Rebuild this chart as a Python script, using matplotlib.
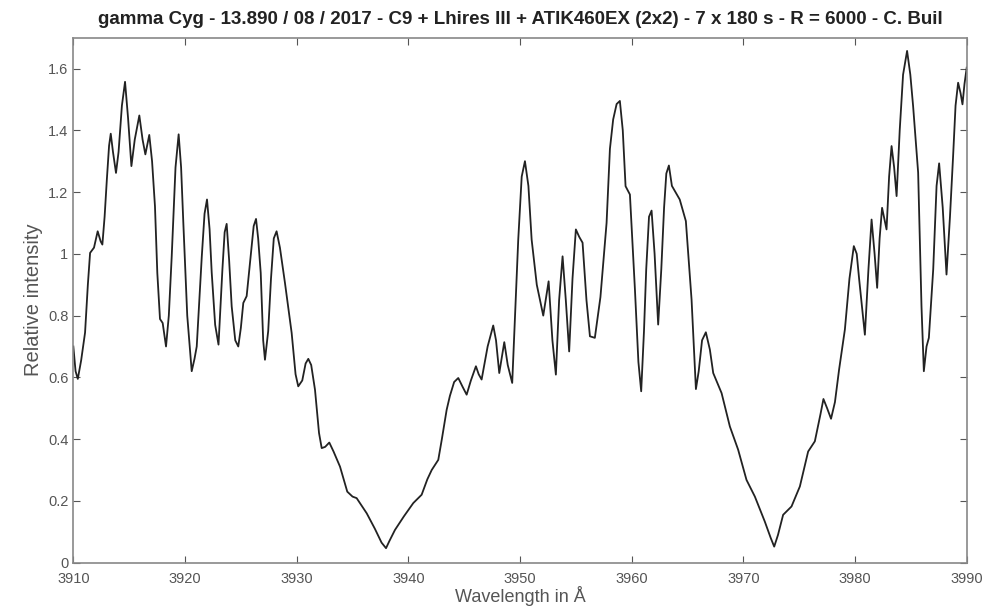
import matplotlib.pyplot as plt
from matplotlib.ticker import FuncFormatter, MultipleLocator

# spectrum (wavelength in A, relative intensity)
wavelength = [3910.0, 3910.2, 3910.4, 3910.7, 3911.05, 3911.3, 3911.5, 3911.85, 3912.18, 3912.45,
              3912.6, 3912.8, 3913.0, 3913.2, 3913.35, 3913.55, 3913.82, 3914.05, 3914.35, 3914.63,
              3914.9, 3915.2, 3915.5, 3915.91, 3916.2, 3916.45, 3916.8, 3917.05, 3917.31, 3917.52,
              3917.76, 3918.0, 3918.3, 3918.55, 3918.81, 3919.15, 3919.43, 3919.65, 3919.85, 3920.2,
              3920.6, 3920.85, 3921.05, 3921.5, 3921.75, 3921.97, 3922.2, 3922.39, 3922.7, 3923.0,
              3923.35, 3923.55, 3923.73, 3923.95, 3924.18, 3924.5, 3924.77, 3925.0, 3925.22, 3925.52,
              3925.9, 3926.15, 3926.36, 3926.55, 3926.78, 3927.0, 3927.16, 3927.45, 3927.7, 3927.95,
              3928.2, 3928.5, 3928.95, 3929.55, 3929.9, 3930.14, 3930.5, 3930.8, 3931.04, 3931.3,
              3931.64, 3932.0, 3932.24, 3932.55, 3932.92, 3933.3, 3933.88, 3934.53, 3935.0, 3935.37,
              3936.27, 3937.0, 3937.6, 3938.0, 3938.3, 3938.8, 3939.6, 3940.44, 3941.19, 3941.7,
              3942.09, 3942.68, 3943.0, 3943.43, 3943.72, 3944.1, 3944.47, 3944.85, 3945.22, 3945.6,
              3946.05, 3946.3, 3946.56, 3947.1, 3947.6, 3947.85, 3948.14, 3948.59, 3948.9, 3949.3,
              3949.55, 3949.84, 3950.15, 3950.44, 3950.75, 3951.04, 3951.5, 3952.08, 3952.56, 3952.9,
              3953.21, 3953.5, 3953.81, 3954.1, 3954.4, 3954.7, 3955.0, 3955.3, 3955.6, 3955.95,
              3956.26, 3956.7, 3957.2, 3957.75, 3958.05, 3958.34, 3958.65, 3958.94, 3959.2, 3959.45,
              3959.84, 3960.29, 3960.6, 3960.85, 3961.1, 3961.3, 3961.55, 3961.78, 3962.05, 3962.37,
              3962.65, 3962.9, 3963.1, 3963.33, 3963.6, 3963.87, 3964.3, 3964.85, 3965.1, 3965.36,
              3965.75, 3966.0, 3966.3, 3966.64, 3967.0, 3967.3, 3968.05, 3968.79, 3969.53, 3970.28,
              3971.03, 3971.92, 3972.45, 3972.76, 3973.1, 3973.56, 3974.31, 3975.06, 3975.8, 3976.4,
              3976.9, 3977.17, 3977.5, 3977.85, 3978.2, 3978.57, 3979.09, 3979.5, 3979.89, 3980.15,
              3980.37, 3980.88, 3981.2, 3981.48, 3981.75, 3981.98, 3982.2, 3982.42, 3982.82, 3983.05,
              3983.27, 3983.5, 3983.72, 3984.0, 3984.3, 3984.66, 3984.95, 3985.2, 3985.65, 3985.95,
              3986.16, 3986.4, 3986.61, 3987.0, 3987.3, 3987.53, 3987.85, 3988.19, 3988.5, 3988.78,
              3989.0, 3989.23, 3989.45, 3989.62, 3989.8, 3990.0]
intensity = [0.70, 0.62, 0.595, 0.655, 0.745, 0.90, 1.003, 1.02, 1.073, 1.04,
             1.03, 1.12, 1.24, 1.35, 1.389, 1.33, 1.262, 1.33, 1.48, 1.557,
             1.44, 1.284, 1.37, 1.448, 1.37, 1.322, 1.385, 1.30, 1.154, 0.938,
             0.789, 0.776, 0.70, 0.80, 0.992, 1.28, 1.387, 1.28, 1.10, 0.80,
             0.62, 0.66, 0.70, 0.99, 1.13, 1.176, 1.08, 0.94, 0.77, 0.706,
             0.95, 1.07, 1.097, 0.98, 0.83, 0.72, 0.70, 0.76, 0.841, 0.863,
             1.00, 1.09, 1.113, 1.05, 0.938, 0.72, 0.657, 0.75, 0.92, 1.05,
             1.073, 1.02, 0.906, 0.744, 0.61, 0.571, 0.59, 0.645, 0.66, 0.64,
             0.56, 0.42, 0.371, 0.375, 0.389, 0.36, 0.311, 0.23, 0.214, 0.209,
             0.16, 0.11, 0.065, 0.047, 0.07, 0.106, 0.15, 0.193, 0.22, 0.27,
             0.30, 0.333, 0.40, 0.495, 0.54, 0.585, 0.598, 0.57, 0.544, 0.59,
             0.636, 0.61, 0.593, 0.70, 0.768, 0.72, 0.614, 0.714, 0.64, 0.582,
             0.80, 1.046, 1.25, 1.30, 1.22, 1.046, 0.90, 0.80, 0.911, 0.72,
             0.609, 0.85, 0.992, 0.85, 0.684, 0.92, 1.079, 1.055, 1.036, 0.85,
             0.733, 0.728, 0.86, 1.10, 1.34, 1.435, 1.485, 1.495, 1.40, 1.219,
             1.192, 0.884, 0.65, 0.555, 0.75, 0.95, 1.12, 1.14, 1.00, 0.771,
             0.95, 1.15, 1.26, 1.286, 1.22, 1.203, 1.176, 1.106, 0.98, 0.852,
             0.562, 0.62, 0.72, 0.746, 0.69, 0.614, 0.549, 0.441, 0.366, 0.268,
             0.214, 0.133, 0.08, 0.052, 0.09, 0.155, 0.182, 0.247, 0.36, 0.393,
             0.48, 0.53, 0.50, 0.466, 0.52, 0.625, 0.755, 0.92, 1.025, 1.00,
             0.917, 0.738, 0.95, 1.111, 1.00, 0.89, 1.05, 1.149, 1.079, 1.25,
             1.349, 1.28, 1.187, 1.40, 1.58, 1.657, 1.58, 1.478, 1.263, 0.83,
             0.62, 0.70, 0.728, 0.95, 1.22, 1.293, 1.15, 0.933, 1.12, 1.316,
             1.48, 1.554, 1.52, 1.484, 1.55, 1.603]

title = "gamma Cyg - 13.890 / 08 / 2017 - C9 + Lhires III + ATIK460EX (2x2) - 7 x 180 s - R = 6000 - C. Buil"

plt.rcParams['font.family'] = ['Liberation Sans', 'DejaVu Sans']
grey = '#555555'

fig = plt.figure(figsize=(9.91, 6.07), dpi=100)
ax = fig.add_axes([0.074, 0.073, 0.9015, 0.865])
ax.plot(wavelength, intensity, color='#222222', lw=1.3, solid_joinstyle='round')

ax.set_xlim(3910, 3990)
ax.set_ylim(0, 1.7)
ax.xaxis.set_major_locator(MultipleLocator(10))
ax.yaxis.set_major_locator(MultipleLocator(0.2))
ax.yaxis.set_major_formatter(FuncFormatter(lambda v, p: '%g' % round(v, 2)))
ax.tick_params(direction='in', top=True, right=True, length=5, width=0.8,
               colors=grey, labelsize=10.5, labelcolor=grey)
ax.tick_params(axis='x', pad=7)
for s in ax.spines.values():
    s.set_color('#888888')
    s.set_linewidth(1.2)

ax.set_xlabel("Wavelength in Å", fontsize=13, color=grey, labelpad=0)
ax.set_ylabel("Relative intensity", fontsize=14.5, color=grey, labelpad=4)
ax.set_title(title, fontsize=13.5, fontweight='bold', color='#222222', pad=10)

fig.savefig('out.png', dpi=100)
